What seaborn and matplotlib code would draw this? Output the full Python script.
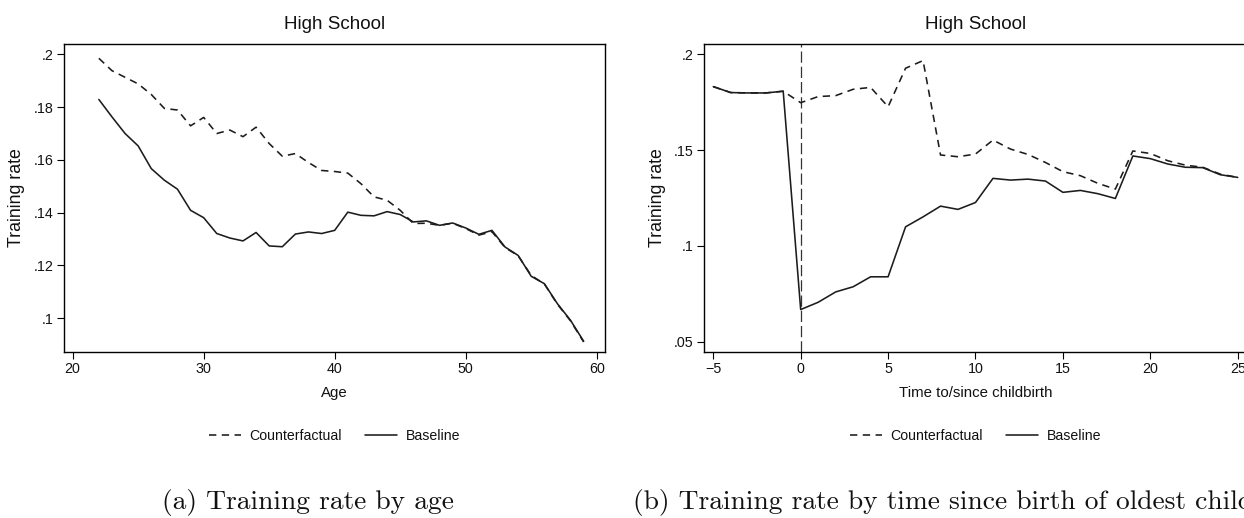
import numpy as np
import pandas as pd
import matplotlib
matplotlib.use("Agg")
import matplotlib.pyplot as plt
from matplotlib import font_manager
from matplotlib.ticker import FuncFormatter, FixedLocator
import seaborn as sns

# ---------------- data ----------------
ages = list(range(22, 60))
counterfactual_age = [0.1985, 0.1938, 0.1913, 0.1888, 0.1848, 0.1795, 0.1789, 0.1729,
                      0.1761, 0.1700, 0.1713, 0.1688, 0.1724, 0.1662, 0.1614, 0.1624,
                      0.1590, 0.1560, 0.1556, 0.1550, 0.1510, 0.1460, 0.1447, 0.1409,
                      0.1359, 0.1360, 0.1352, 0.1360, 0.1340, 0.1315, 0.1328, 0.1268,
                      0.1237, 0.1162, 0.1130, 0.1053, 0.0990, 0.0910]
baseline_age = [0.1829, 0.1763, 0.1700, 0.1653, 0.1567, 0.1523, 0.1489, 0.1409,
                0.1381, 0.1321, 0.1304, 0.1293, 0.1325, 0.1274, 0.1271, 0.1319,
                0.1327, 0.1321, 0.1333, 0.1402, 0.1390, 0.1388, 0.1404, 0.1393,
                0.1365, 0.1369, 0.1352, 0.1361, 0.1342, 0.1318, 0.1333, 0.1270,
                0.1238, 0.1159, 0.1131, 0.1055, 0.0992, 0.0913]

times = list(range(-5, 26))
counterfactual_t = [0.1831, 0.1800, 0.1798, 0.1798, 0.1807, 0.1747, 0.1779, 0.1784,
                    0.1817, 0.1827, 0.1726, 0.1927, 0.1967, 0.1474, 0.1465, 0.1479,
                    0.1552, 0.1505, 0.1477, 0.1435, 0.1387, 0.1366, 0.1326, 0.1296,
                    0.1495, 0.1482, 0.1444, 0.1421, 0.1410, 0.1374, 0.1357]
baseline_t = [0.1831, 0.1800, 0.1798, 0.1798, 0.1807, 0.0667, 0.0705, 0.0759,
              0.0786, 0.0838, 0.0838, 0.1099, 0.1151, 0.1207, 0.1190, 0.1226,
              0.1352, 0.1343, 0.1348, 0.1338, 0.1279, 0.1289, 0.1272, 0.1247,
              0.1469, 0.1455, 0.1427, 0.1410, 0.1408, 0.1371, 0.1357]

series_names = ["Counterfactual", "Baseline"]
left_xticks = [20, 30, 40, 50, 60]
left_yticks = [0.1, 0.12, 0.14, 0.16, 0.18, 0.2]
right_xticks = [-5, 0, 5, 10, 15, 20, 25]
right_yticks = [0.05, 0.1, 0.15, 0.2]
panel_title = "High School"
ylabel = "Training rate"
left_xlabel = "Age"
right_xlabel = "Time to/since childbirth"
caption_a = "(a) Training rate by age"
caption_b = "(b) Training rate by time since birth of oldest child"

# ---------------- style ----------------
sns.set_style("ticks")
avail = {f.name for f in font_manager.fontManager.ttflist}
sans = "Liberation Sans" if "Liberation Sans" in avail else "DejaVu Sans"
serif = "cmr10" if "cmr10" in avail else "DejaVu Serif"
plt.rcParams["font.family"] = [sans, "DejaVu Sans"]
plt.rcParams["axes.unicode_minus"] = True

W, H = 1244, 518
fig = plt.figure(figsize=(W / 100, H / 100), dpi=100)


def px_axes(x0, x1, ytop, ybot):
    return fig.add_axes([x0 / W, 1 - ybot / H, (x1 - x0) / W, (ybot - ytop) / H])


ax1 = px_axes(64, 605, 44.3, 351.5)
ax2 = px_axes(704, 1247, 44.3, 351.5)

df1 = pd.DataFrame({
    "x": ages * 2,
    "y": counterfactual_age + baseline_age,
    "series": [series_names[0]] * len(ages) + [series_names[1]] * len(ages),
})
df2 = pd.DataFrame({
    "x": times * 2,
    "y": counterfactual_t + baseline_t,
    "series": [series_names[0]] * len(times) + [series_names[1]] * len(times),
})

dash_map = {"Counterfactual": (4.6, 3.4), "Baseline": ""}
line_col = "#1c1c1c"
txt_col = "#111111"

fmt = FuncFormatter(lambda v, p: ("%g" % v).replace("0.", ".", 1))


def style_axis(ax, df, xlim, ylim, xticks, yticks, xlabel, ylab_x):
    sns.lineplot(data=df, x="x", y="y", style="series", style_order=series_names,
                 dashes=dash_map, color=line_col, linewidth=1.15, ax=ax, legend=True)
    handles, labels = ax.get_legend_handles_labels()
    if ax.get_legend() is not None:
        ax.get_legend().remove()
    ax.set_xlim(*xlim)
    ax.set_ylim(*ylim)
    ax.xaxis.set_major_locator(FixedLocator(xticks))
    ax.yaxis.set_major_locator(FixedLocator(yticks))
    ax.yaxis.set_major_formatter(fmt)
    for s in ax.spines.values():
        s.set_visible(True)
        s.set_linewidth(1.0)
        s.set_color("black")
    ax.tick_params(direction="out", length=4.8, width=0.8, color="black", pad=3,
                   labelsize=10.3, labelcolor=txt_col)
    ax.set_title(panel_title, fontsize=13.5, pad=11, color=txt_col)
    ax.set_xlabel(xlabel, fontsize=10.8, color=txt_col)
    ax.set_ylabel(ylabel, fontsize=12.8, color=txt_col)
    ax.xaxis.set_label_coords(0.5, -0.135)
    ax.xaxis.label.set_va("center")
    ax.yaxis.set_label_coords(ylab_x, 0.5)
    ax.yaxis.label.set_va("center")
    ax.grid(False)
    leg = ax.legend(handles, labels, loc="center", bbox_to_anchor=(0.5, -0.275),
                    ncol=2, frameon=False, handlelength=2.3, handletextpad=0.58,
                    columnspacing=1.6, prop={"size": 10.2})
    for t in leg.get_texts():
        t.set_color(txt_col)
    return ax


style_axis(ax1, df1, (19.34, 60.63), (0.0874, 0.2038), left_xticks, left_yticks,
           left_xlabel, -0.087)
style_axis(ax2, df2, (-5.53, 25.53), (0.0448, 0.2052), right_xticks, right_yticks,
           right_xlabel, -0.085)
ax2.axvline(0, color="#333333", linewidth=0.9, linestyle=(0, (9, 3.2)), zorder=1)

fig.text(308 / W, 1 - 503 / H, caption_a, ha="center", va="center",
         fontsize=19.8, family=serif, color=txt_col)
fig.text(633 / W, 1 - 503 / H, caption_b, ha="left", va="center",
         fontsize=19.8, family=serif, color=txt_col)

fig.savefig("out.png", dpi=100)
